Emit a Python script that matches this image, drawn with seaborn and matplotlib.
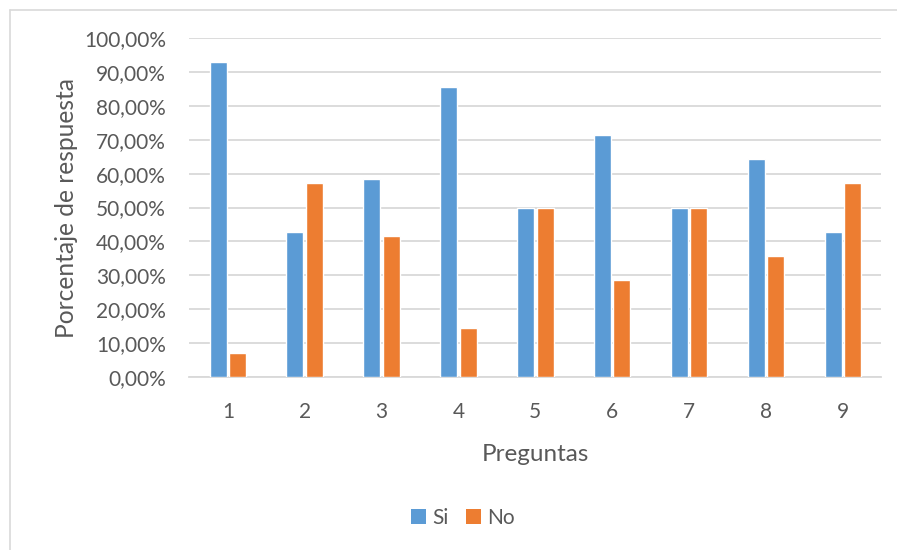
import matplotlib
matplotlib.use("Agg")
import matplotlib.pyplot as plt
import seaborn as sns
import pandas as pd
from matplotlib.ticker import FuncFormatter, MultipleLocator
from matplotlib.patches import Patch

preguntas = ["1", "2", "3", "4", "5", "6", "7", "8", "9"]
si = [92.86, 42.86, 58.33, 85.71, 50.00, 71.43, 50.00, 64.29, 42.86]
no = [7.14, 57.14, 41.67, 14.29, 50.00, 28.57, 50.00, 35.71, 57.14]
series = ["Si", "No"]
colores = ["#5B9BD5", "#ED7D31"]

df = pd.DataFrame({
    "Preguntas": preguntas * 2,
    "Porcentaje": si + no,
    "Serie": [series[0]] * len(preguntas) + [series[1]] * len(preguntas),
})

sns.set_theme(style="white")
plt.rcParams["font.family"] = ["Lato", "DejaVu Sans"]
texto = "#595959"

fig = plt.figure(figsize=(8.97, 5.5), dpi=100)
W, H = 897, 550
ax = fig.add_axes([189.4 / W, 1 - 376.7 / H, (881.2 - 189.4) / W, (376.7 - 38.3) / H])

sns.barplot(data=df, x="Preguntas", y="Porcentaje", hue="Serie",
            palette=colores, width=0.507, gap=0.13, saturation=1,
            ax=ax, legend=False, zorder=3)

ax.set_ylim(0, 100)
ax.set_xlim(-0.5, len(preguntas) - 0.5)
ax.yaxis.set_major_locator(MultipleLocator(10))
ax.yaxis.set_major_formatter(FuncFormatter(lambda v, p: f"{v:.2f}".replace(".", ",") + "%"))
ax.grid(axis="y", color="#D9D9D9", linewidth=1.3, zorder=0)
ax.grid(axis="x", visible=False)
for s in ["top", "right", "left"]:
    ax.spines[s].set_visible(False)
ax.spines["bottom"].set_color("#D9D9D9")
ax.spines["bottom"].set_linewidth(1.3)
ax.tick_params(axis="both", length=0, labelsize=15, colors=texto)
ax.tick_params(axis="x", pad=18)
ax.tick_params(axis="y", pad=17)
ax.set_xlabel("Preguntas", fontsize=17.5, color=texto, labelpad=16)
ax.set_ylabel("Porcentaje de respuesta", fontsize=17.7, color=texto, labelpad=4)

# legend
handles = [Patch(facecolor=c, edgecolor="none") for c in colores]
fig.legend(handles, series, loc="center", bbox_to_anchor=(463 / W, 1 - 518 / H),
           ncol=2, frameon=False, fontsize=15, labelcolor=texto,
           handlelength=0.75, handleheight=0.75, handletextpad=0.3, columnspacing=0.8)

# chart area border
fig.add_artist(plt.Line2D([9.5 / W, 1], [1 - 9.5 / H, 1 - 9.5 / H], color="#D9D9D9", lw=1.2,
                          transform=fig.transFigure))
fig.add_artist(plt.Line2D([9.5 / W, 9.5 / W], [0, 1 - 9.5 / H], color="#D9D9D9", lw=1.2,
                          transform=fig.transFigure))

fig.savefig("out.png", dpi=100, facecolor="white")
